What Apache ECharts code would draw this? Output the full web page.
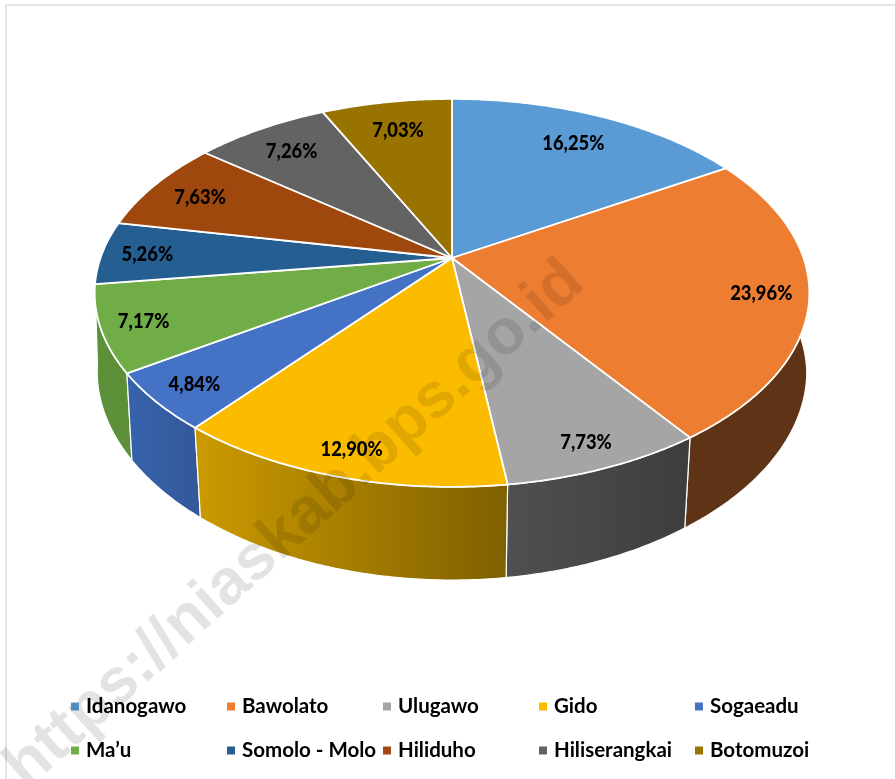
<!DOCTYPE html>
<html><head><meta charset="utf-8">
<style>html,body{margin:0;padding:0;background:#fff}#c{width:895px;height:779px}</style>
<script src="https://cdn.jsdelivr.net/npm/echarts@6/dist/echarts.min.js"></script>
</head><body><div id="c"></div>
<script>
const categories = ['Idanogawo','Bawolato','Ulugawo','Gido','Sogaeadu','Ma\u2019u','Somolo - Molo','Hiliduho','Hiliserangkai','Botomuzoi'];
const values = [16.25,23.96,7.73,12.90,4.84,7.17,5.26,7.63,7.26,7.03];
const topColors = ['#5b9bd5','#ed7d31','#a5a5a5','#fbbc00','#4472c4','#70ad47','#255e91','#9e480e','#636363','#997300'];
const wallLeft  = ['#3b6f9e','#5f3316','#505050','#cc9a00','#3763ac','#5a9138','#1c4870','#6e320a','#454545','#6b5000'];
const wallRight = ['#3b6f9e','#5f3316','#3d3d3d','#7f6000','#34589a','#5e8f3a','#1c4870','#6e320a','#454545','#6b5000'];
const labelRadius = [0.795,0.87,0.89,0.89,0.885,0.885,0.871,0.84,0.82,0.80];
const FONT = '"Lato","Carlito",sans-serif';

/* perspective view of the pie disc */
const CX=452, CY=258, SX=351.5, SY=187.7, P=0.18;
const WALL_YK=1.0545, WALL_YB=66.6;
const total = values.reduce((a,b)=>a+b,0);
const starts=[]; { let c=0; values.forEach(v=>{starts.push(c/total*2*Math.PI); c+=v;}); }
const ends = starts.map((s,i)=>s+values[i]/total*2*Math.PI);
function proj(th,r){ const u=r*Math.sin(th), v=-r*Math.cos(th), w=1-P*v; return [CX+SX*u/w, CY+SY*v/w]; }
function low(p){
  const t=Math.max(0,(p[1]-290)/147), sx=0.993-0.015*t;
  return [CX+sx*(p[0]-CX), WALL_YK*p[1]+WALL_YB];
}
function arc(a,b){ const n=Math.max(8,Math.ceil((b-a)/0.01)), o=[]; for(let i=0;i<=n;i++) o.push(proj(a+(b-a)*i/n,1)); return o; }

const wallOrder = values.map((_,i)=>i).sort((a,b)=>{
  const m=i=>-Math.cos((starts[i]+ends[i])/2); return m(a)-m(b);
});

const series = [{
  type:'custom', name:'walls', coordinateSystem:'none', silent:true, z:1, animation:false,
  data: wallOrder.map(i=>[i]),
  renderItem(params,api){
    const i=api.value(0), top=arc(starts[i],ends[i]), bot=top.map(low).reverse();
    const xs=top.map(p=>p[0]);
    return {type:'polygon', shape:{points:top.concat(bot)}, style:{
      fill:{type:'linear',global:true,x:Math.min(...xs),y:0,x2:Math.max(...xs),y2:0,
            colorStops:[{offset:0,color:wallLeft[i]},{offset:1,color:wallRight[i]}]},
      stroke:'#fff', lineWidth:1.2, lineJoin:'round'}};
  }
}].concat(categories.map((name,i)=>({
  type:'custom', name, coordinateSystem:'none', silent:true, z:2, animation:false,
  itemStyle:{color:topColors[i]},
  data:[[values[i]]],
  renderItem(params,api){
    return {type:'polygon',shape:{points:[[CX,CY]].concat(arc(starts[i],ends[i]))},
       style:{fill:topColors[i],stroke:'#fff',lineWidth:1.8,lineJoin:'round'}};
  }
}))).concat([{
  type:'custom', name:'labels', coordinateSystem:'none', silent:true, z:3, animation:false,
  data: values.map((v,i)=>[v,i]),
  renderItem(params,api){
    const v=api.value(0), i=api.value(1), lp=proj((starts[i]+ends[i])/2,labelRadius[i]);
    return {type:'text',x:lp[0],y:lp[1]+1.5,scaleX:0.92,style:{text:v.toFixed(2).replace('.',',')+'%',fill:'#000',
      font:'900 20px '+FONT,align:'center',verticalAlign:'middle'}};
  }
}]);

const colX=[71,227,383,539,695], rowY=[696,740];
const legends = categories.map((name,i)=>({
  data:[name], icon:'rect', itemWidth:8, itemHeight:8, itemGap:0, selectedMode:false,
  left:colX[i%5], top:rowY[Math.floor(i/5)], padding:0,
  textStyle:{color:'#000',fontFamily:FONT,fontWeight:700,fontSize:20.5,padding:[0,0,0,2]}
}));

const chart=echarts.init(document.getElementById('c'),null,{renderer:'canvas'});
chart.setOption({
  animation:false, backgroundColor:'#fff', legend:legends, series,
  graphic:[
    {type:'line',shape:{x1:6,y1:5,x2:895,y2:5},style:{stroke:'#dcdcdc',lineWidth:1.5},z:0},
    {type:'line',shape:{x1:6,y1:5,x2:6,y2:779},style:{stroke:'#dcdcdc',lineWidth:1.5},z:0},
    {type:'text',x:295,y:525,rotation:42*Math.PI/180,z:50,silent:true,
     style:{text:'https://niaskab.bps.go.id',font:'700 64px "Liberation Sans",sans-serif',
            fill:'rgba(0,0,0,0.11)',align:'center',verticalAlign:'middle'}}
  ]
});
</script></body></html>
